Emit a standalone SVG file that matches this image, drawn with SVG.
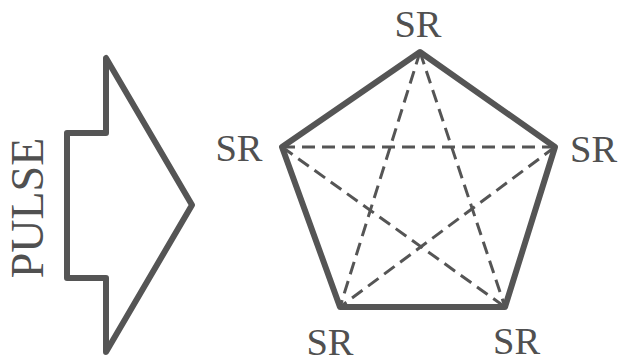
<svg xmlns="http://www.w3.org/2000/svg" width="619" height="362" viewBox="0 0 619 362">
<style>
.lbl{font-family:"Liberation Serif","Times New Roman",serif;font-size:38.5px;fill:#505050}
.solid{fill:none;stroke:#555;stroke-width:6;stroke-linejoin:round;stroke-linecap:round}
.dash{fill:none;stroke:#555;stroke-width:3;stroke-dasharray:13 7}
</style>
<rect width="619" height="362" fill="#fff"/>
<g id="pulse">
<path class="solid" d="M106 58 L106 133 L67 133 L67 278 L106 278 L106 352 L192 205 Z"/>
<text class="lbl" style="font-size:46px" transform="translate(43,208) rotate(-90)" text-anchor="middle">PULSE</text>
</g>
<g id="connectors">
<path class="solid" d="M420 52 L555 147 L505 307 L340 307 L282 147 Z"/>
<line class="dash" x1="282" y1="147" x2="555" y2="147"/>
<line class="dash" x1="420" y1="52" x2="340" y2="307"/>
<line class="dash" x1="420" y1="52" x2="505" y2="307"/>
<line class="dash" x1="282" y1="147" x2="505" y2="307"/>
<line class="dash" x1="555" y1="147" x2="340" y2="307"/>
</g>
<g id="sr-top"><text class="lbl" x="418" y="37" text-anchor="middle">SR</text></g>
<g id="sr-left"><text class="lbl" x="239" y="161" text-anchor="middle">SR</text></g>
<g id="sr-right"><text class="lbl" x="570" y="162">SR</text></g>
<g id="sr-bottom-left"><text class="lbl" x="330" y="355" text-anchor="middle">SR</text></g>
<g id="sr-bottom-right"><text class="lbl" x="493" y="354">SR</text></g>
</svg>
